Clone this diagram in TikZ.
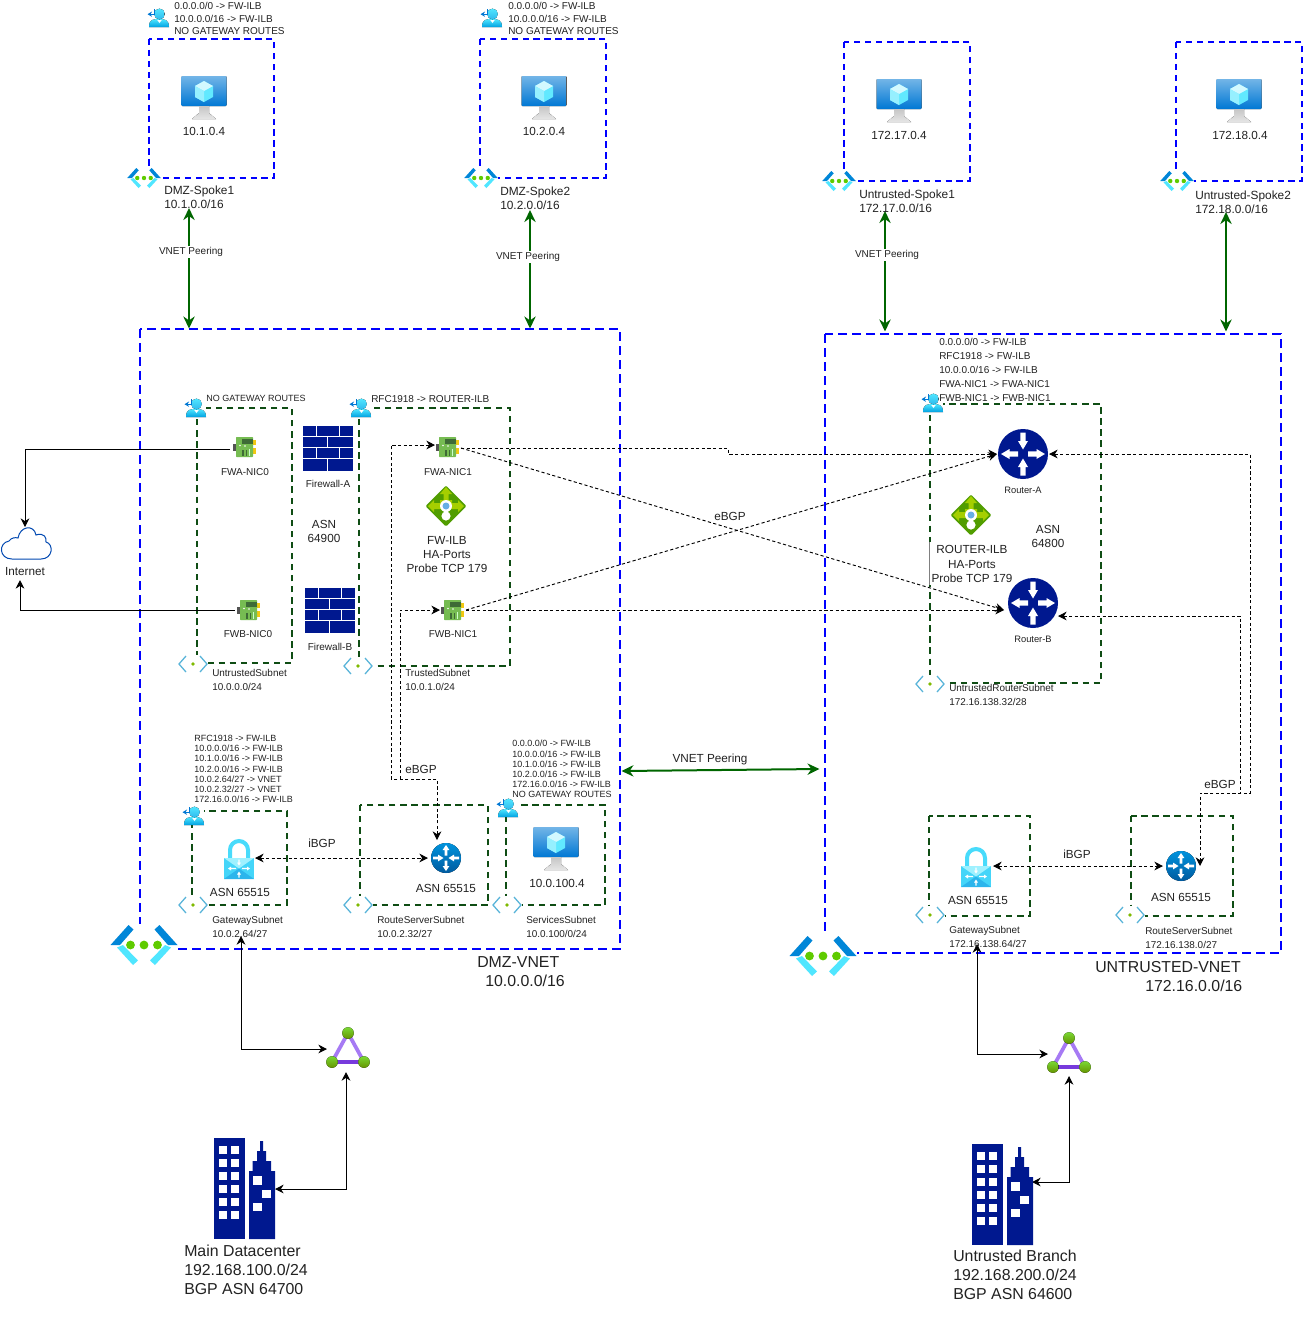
\documentclass[tikz,border=0pt]{standalone}
\usepackage{fontspec}
\setmainfont{Liberation Sans}
\usetikzlibrary{arrows.meta,calc}
\definecolor{navy}{HTML}{00188F}
\definecolor{subgreen}{HTML}{0F4D14}
\definecolor{peer}{HTML}{006600}
\definecolor{azb}{HTML}{0078D4}
\definecolor{azc}{HTML}{50E6FF}
\definecolor{azg}{HTML}{7FBA00}
\definecolor{subb}{HTML}{59B4D9}
\definecolor{txt}{HTML}{222222}
\definecolor{nicg}{HTML}{76BC52}
\definecolor{nicd}{HTML}{3E6B36}
\definecolor{nicy}{HTML}{F2C811}
\definecolor{erl}{HTML}{A67AF4}
\definecolor{erd}{HTML}{773ADC}
\tikzset{
 every node/.style={text=txt},
 vbox/.style={draw=blue,line width=2.05pt,dash pattern=on 6.5pt off 4pt},
 smallvbox/.style={draw=blue,line width=1.55pt,dash pattern=on 4.8pt off 3.4pt},
 subbox/.style={draw=subgreen,line width=1.55pt,dash pattern=on 4.8pt off 3.5pt},
 t9/.style={inner sep=0pt,align=left,anchor=west,font=\fontsize{6.75}{7.6}\selectfont},
 t10/.style={inner sep=0pt,align=left,anchor=west,font=\fontsize{7.5}{9.4}\selectfont},
 t10w/.style={t10,font=\fontsize{7.5}{10.5}\selectfont},
 t12/.style={inner sep=0pt,align=left,anchor=west,font=\fontsize{8.9}{10.5}\selectfont},
 t16/.style={inner sep=0pt,align=left,anchor=west,font=\fontsize{11.9}{14.2}\selectfont},
 c9/.style={inner sep=0pt,align=center,font=\fontsize{7}{8}\selectfont},
 c10/.style={inner sep=0pt,align=center,font=\fontsize{7.5}{9}\selectfont},
 c12/.style={inner sep=0pt,align=center,font=\fontsize{8.8}{10.5}\selectfont},
 t10s/.style={inner sep=0pt,align=left,anchor=west,font=\fontsize{7.45}{10.5}\selectfont},
 peerlink/.style={draw=peer,line width=1.5pt,{Stealth[length=9pt,width=8.5pt]}-{Stealth[length=9pt,width=8.5pt]}},
 bgpline/.style={draw=black,line width=0.7pt,dash pattern=on 2.4pt off 1.8pt},
 bgptwo/.style={bgpline,{Stealth[length=6.5pt,width=6.5pt]}-{Stealth[length=6.5pt,width=6.5pt]}},
 bgpone/.style={bgpline,-{Stealth[length=6.5pt,width=6.5pt]}},
 solidtwo/.style={draw=black,line width=0.75pt,{Stealth[length=6.5pt,width=6.5pt]}-{Stealth[length=6.5pt,width=6.5pt]}},
 solidone/.style={draw=black,line width=0.75pt,-{Stealth[length=6.5pt,width=6.5pt]}},
 whitebg/.style={fill=white,inner sep=1pt},
 vm/.pic={
  \fill[top color=azb!55!white,bottom color=azb,rounded corners=0.6pt] (-22.5,-21) rectangle (22.5,9);
  \fill[top color=gray!45,bottom color=gray!20] (-5,9) -- (5,9) -- (5,16) -- (12,22) -- (-12,22) -- (-5,16) -- cycle;
  \fill[azc!90] (0,-16) -- (9,-11) -- (9,0) -- (0,5) -- (-9,0) -- (-9,-11) -- cycle;
  \fill[white!75!azc] (0,-16) -- (9,-11) -- (0,-6) -- (-9,-11) -- cycle;
  \fill[white!40!azc] (0,-6) -- (-9,-11) -- (-9,0) -- (0,5) -- cycle;
 },
 vnetpic/.pic={
  \fill[white] (-34,-21) rectangle (34,21);
  \fill[azb!90!cyan] (-33.5,0) -- (-15.5,-20) -- (-10.5,-15.5) -- (-24,0) -- cycle;
  \fill[azb!90!cyan] (33.5,0) -- (15.5,-20) -- (10.5,-15.5) -- (24,0) -- cycle;
  \fill[azc] (-27,2.5) -- (-11,20) -- (-6,15.5) -- (-21,0) -- cycle;
  \fill[azc] (27,2.5) -- (11,20) -- (6,15.5) -- (21,0) -- cycle;
  \foreach \dx in {-13.5,0,13.5} \fill[azg!75!green] (\dx,0) circle (4.4);
 },
 subnetpic/.pic={
  \draw[subb,line width=0.95pt] (-7,-8) -- (-14,0) -- (-7,8);
  \draw[subb,line width=0.95pt] (7,-8) -- (14,0) -- (7,8);
  \fill[azg] (0,0) circle (1.9);
 },
 rtpic/.pic={
  \fill[top color=azc,bottom color=azb!70!cyan] (-9,9) .. controls (-9,1) and (-4,1) .. (1.5,1) .. controls (7,1) and (11,2) .. (11,9) -- cycle;
  \fill[top color=azc,bottom color=azc!60!azb] (1.5,-4) circle (5.4);
  \fill[white] (-0.8,2) -- (3.8,2) -- (1.5,5) -- cycle;
  \draw[azb,line width=0.95pt,-{Stealth[length=3.4pt,width=4pt]}] (-3.5,-9) -- (-3.5,-3.8) -- (-10.5,-3.8);
 },
 nicpic/.pic={
  \fill[gray!65!black] (-12,-3.5) rectangle (-9,4);
  \fill[nicy] (7,-7) rectangle (11,-2);
  \fill[nicy] (7,1) rectangle (11,7);
  \fill[nicg,rounded corners=0.5pt] (-9,-10) rectangle (8,10);
  \fill[nicd] (-3,-8) rectangle (8,-3.5);
  \fill[nicd] (-3,3) rectangle (-1.5,9);
  \fill[nicd] (0.5,3) rectangle (2,9);
  \fill[white!80!green] (4,2) rectangle (5,9);
  \fill[white] (-5,-1.5) circle (0.9);
  \fill[white] (0,-1) circle (0.9);
 },
 fwpic/.pic={
  \fill[navy] (-25,-22.5) rectangle (25,22.5);
  \draw[white,line width=0.8pt] (-25,-11.8) -- (25,-11.8) (-25,-0.4) -- (25,-0.4) (-25,10.8) -- (25,10.8)
    (-11.4,-22.5) -- (-11.4,-11.8) (11.9,-22.5) -- (11.9,-11.8)
    (-0.2,-11.8) -- (-0.2,-0.4)
    (-11.4,-0.4) -- (-11.4,10.8) (11.9,-0.4) -- (11.9,10.8)
    (-0.2,10.8) -- (-0.2,22.5);
 },
 ilbpic/.pic={
  \fill[azg!75!black!85!green,rounded corners=1pt] (0,-20.5) -- (20.5,0) -- (0,20.5) -- (-20.5,0) -- cycle;
  \fill[azg!70!yellow] (0,-19) -- (-6,-12) -- (-2.5,-12) -- (-2.5,-6) -- (-6,-6) -- (-6,-3) -- (-12,-3) -- (-12,-6) -- (-18,0) -- (-12,6) -- (-12,3) -- (12,3) -- (12,6) -- (18,0) -- (12,-6) -- (12,-3) -- (6,-3) -- (6,-6) -- (2.5,-6) -- (2.5,-12) -- (6,-12) -- cycle;
  \fill[white] (0,0) circle (6);
  \fill[white] (0,10) circle (4.6);
  \fill[white] (-2.2,3) rectangle (2.2,8);
  \fill[azb!60!white] (0,0) circle (3.5);
 },
 rtrbig/.pic={
  \fill[navy] (0,0) circle (25);
  \foreach \ang in {0,180}{
   \begin{scope}[rotate=\ang]
    \fill[white] (-2.6,-21.5) -- (2.6,-21.5) -- (2.6,-13) -- (5,-13) -- (0,-4.5) -- (-5,-13) -- (-2.6,-13) -- cycle;
   \end{scope}}
  \foreach \ang in {90,270}{
   \begin{scope}[rotate=\ang]
    \fill[white] (-2.6,-5) -- (2.6,-5) -- (2.6,-13.5) -- (5,-13.5) -- (0,-22) -- (-5,-13.5) -- (-2.6,-13.5) -- cycle;
   \end{scope}}
 },
 rtrsmall/.pic={
  \fill[top color=azb!80!cyan,bottom color=azb!75!black] (0,0) circle (15);
  \foreach \ang in {90,270}{
   \begin{scope}[rotate=\ang]
    \fill[white] (-1.4,-13) -- (1.4,-13) -- (1.4,-8) -- (3.4,-8) -- (0,-2.5) -- (-3.4,-8) -- (-1.4,-8) -- cycle;
   \end{scope}}
  \foreach \ang in {0,180}{
   \begin{scope}[rotate=\ang]
    \fill[white] (-1.4,-2.5) -- (1.4,-2.5) -- (1.4,-8) -- (3.4,-8) -- (0,-13) -- (-3.4,-8) -- (-1.4,-8) -- cycle;
   \end{scope}}
 },
 vpnpic/.pic={
  \draw[azc!90!azb,line width=3pt] (-9,0) -- (-9,-9) arc[start angle=180,end angle=360,radius=9] -- (9,0);
  \fill[azc!85!azb] (-15,-1) rectangle (15,20);
  \fill[azc!55!white] (-15,-1) -- (0,9.5) -- (15,-1) -- cycle;
  \fill[azb!45!azc] (-15,20) -- (0,9.5) -- (15,20) -- cycle;
  \foreach \ang in {0,180}{
   \begin{scope}[shift={(0,9.5)},rotate=\ang]
    \fill[white] (-0.7,-9) -- (0.7,-9) -- (0.7,-6) -- (2,-6) -- (0,-3) -- (-2,-6) -- (-0.7,-6) -- cycle;
   \end{scope}}
  \foreach \ang in {90,270}{
   \begin{scope}[shift={(0,9.5)},rotate=\ang]
    \fill[white] (-0.7,-3) -- (0.7,-3) -- (0.7,-8) -- (2,-8) -- (0,-11) -- (-2,-8) -- (-0.7,-8) -- cycle;
   \end{scope}}
 },
 erpic/.pic={
  \draw[erl,line width=2.8pt] (-16,14) -- (0,-15) -- (16,14);
  \draw[erd,line width=2.8pt] (-16,14) -- (16,14);
  \foreach \px/\py in {0/-15,-16/14,16/14}
   \fill[top color=azg!70!green!80!white,bottom color=azg!80!black] (\px,\py) circle (5.8);
 },
 bldpic/.pic={
  \fill[navy] (0,0) rectangle (31,101);
  \foreach \ry in {8,21,34,47,60,73}{
   \fill[white] (4.7,\ry) rectangle (12.5,\ry+8);
   \fill[white] (17.3,\ry) rectangle (25,\ry+8);
  }
  \fill[navy] (35,101) -- (35,33) -- (38.5,33) -- (38.5,23) -- (43,23) -- (43,13) -- (46,13) -- (46,3) -- (49,3) -- (49,13) -- (52,13) -- (52,23) -- (57,23) -- (57,33) -- (61,33) -- (61,101) -- cycle;
  \fill[white] (39,38) rectangle (47.5,47);
  \fill[white] (48.3,52) rectangle (57,60);
  \fill[white] (39,65) rectangle (47.5,73);
 },
 cloudpic/.pic={
  \draw[draw=azb!50!navy,fill=white,line width=0.75pt] (-14,16) .. controls (-27,16) and (-28,0) .. (-17,-2) .. controls (-15,-5) and (-11,-6) .. (-8,-5) .. controls (-6,-17) and (8,-19) .. (10,-8) .. controls (18,-11) and (21,-5) .. (20,-1) .. controls (28,1) and (27,16) .. (15,16) -- cycle;
 }
}
\begin{document}
\begin{tikzpicture}[x=0.75pt,y=-0.75pt]
\useasboundingbox (0,0) rectangle (1303,1322);
\fill[white] (0,0) rectangle (1303,1322);

% big vnets
\draw[vbox] (140,329) rectangle (620,949);
\draw[vbox] (825,334) rectangle (1281,953);
% spoke boxes
\draw[smallvbox] (149,39) rectangle (274,178);
\draw[smallvbox] (480,39) rectangle (606,178);
\draw[smallvbox] (844,42) rectangle (970,181);
\draw[smallvbox] (1176,42) rectangle (1302,181);
% subnets
\draw[subbox] (197,408) rectangle (292,663);
\draw[subbox] (359,408) rectangle (510,666);
\draw[subbox] (192,811) rectangle (287,905);
\draw[subbox] (360,805) rectangle (488,905);
\draw[subbox] (506,805) rectangle (605,905);
\draw[subbox] (930,404) rectangle (1101,683);
\draw[subbox] (929,816) rectangle (1030,916);
\draw[subbox] (1131,816) rectangle (1233,916);

% icon anchor nodes (sizes set the connector end points)
\tikzset{ib/.style 2 args={inner sep=0pt,outer sep=0pt,minimum width=#1*0.75pt,minimum height=#2*0.75pt}}
\node[ib={48}{28}] (peer1) at (189,194) {};
\node[ib={48}{30}] (peer2) at (530,195) {};
\node[ib={48}{30}] (peer3) at (885,196) {};
\node[ib={48}{30}] (peer4) at (1226,197) {};
\node[ib={1}{1}] (dmz1) at (189,329) {};
\node[ib={1}{1}] (dmz2) at (530,329) {};
\node[ib={1}{1}] (unt1) at (885,332) {};
\node[ib={1}{1}] (unt2) at (1226,332) {};
\node[ib={1}{1}] (dmzside) at (621,771) {};
\node[ib={1}{1}] (untside) at (820,769) {};

\node[ib={28}{22}] (fwan0) at (244,449) {};
\node[ib={28}{22}] (fwbn0) at (249,610) {};
\node[ib={26}{22}] (fwan1) at (448,448) {};
\node[ib={26}{22}] (fwbn1) at (453,610) {};
\node[ib={52}{52}] (rtrA) at (1023,454) {};
\node[ib={54}{54}] (rtrB) at (1031,610) {};
\node[ib={36}{36}] (rs1) at (446,858) {};
\node[ib={36}{36}] (rs2) at (1181,866) {};
\node[ib={34}{44}] (gw1) at (238,858) {};
\node[ib={34}{44}] (gw2) at (976,866) {};
\node[ib={44}{46}] (er1) at (349,1049) {};
\node[ib={44}{46}] (er2) at (1070,1054) {};
\node[ib={62}{102}] (bld1) at (244,1189) {};
\node[ib={62}{102}] (bld2) at (1001,1194) {};
\node[ib={50}{53}] (cloud) at (25,553.5) {};
\node[ib={30}{30}] (gwlbl1) at (241,921) {};
\node[ib={30}{30}] (gwlbl2) at (977,929) {};

\coordinate (c2a) at (25,449);
\coordinate (c2b) at (20,610);
\coordinate (t1a) at (728,448);
\coordinate (t1b) at (728,454);
\coordinate (rsup) at (437,779);
\coordinate (rsl) at (391,779);
\coordinate (rst) at (391,445);
\coordinate (rsm) at (400,779);
\coordinate (rsb) at (400,610);
\coordinate (rra) at (1250,454);
\coordinate (rrb) at (1250,793);
\coordinate (rrc) at (1200,793);
\coordinate (rrd) at (1240,616);
\coordinate (rre) at (1240,793);
\coordinate (rbe) at (1058,616);
\coordinate (rse) at (1200,866);

% connectors
\draw[peerlink] (peer1.south) -- (dmz1);
\draw[peerlink] (peer2.south) -- (dmz2);
\draw[peerlink] (peer3.south) -- (unt1);
\draw[peerlink] (peer4.south) -- (unt2);
\draw[peerlink] (dmzside) -- (untside);

\draw[solidone] (fwan0.west) -- (c2a) -- (c2a |- cloud.north);
\draw[solidone] (fwbn0.west) -- (c2b) -- (c2b |- cloud.south);

\draw[bgpone] (fwan1.east) -- (t1a) -- (t1b) -- (rtrA.west);
\draw[bgpone] (fwan1.east) -- (rtrB.west);
\draw[bgpone] (fwbn1.east) -- (rtrA.west);
\draw[bgpone] (fwbn1.east) -- (rtrB.west);
\draw[bgptwo] (rs1.north -| rsup) -- (rsup) -- (rsl) -- (rst) -- (rst -| fwan1.west);
\draw[bgpone] (rsm) -- (rsb) -- (fwbn1.west);
\draw[bgptwo] (rtrA.east) -- (rra) -- (rrb) -- (rrc) -- (rse);
\draw[bgpline,{Stealth[length=6.5pt,width=6.5pt]}-] (rbe) -- (rrd) -- (rre);
\draw[bgptwo] (gw1.east) -- (rs1.west);
\draw[bgptwo] (gw2.east) -- (rs2.west);

\draw[solidtwo] (gwlbl1.south) -- (gwlbl1.south |- er1.west) -- (er1.west);
\draw[solidtwo] (gwlbl2.south) -- (gwlbl2.south |- er2.west) -- (er2.west);
\draw[solidtwo] (bld1.east |- 0,1189) -- (346,1189) -- (346,1072);
\draw[solidtwo] (bld2.east |- 0,1182) -- (1069,1182) -- (1069,1076);

% icons
\pic[scale=1] at (204,97) {vm};
\pic at (544,97) {vm};
\pic at (899,100) {vm};
\pic at (1239,100) {vm};
\pic at (556,848) {vm};

\pic[scale=0.5] at (144,178) {vnetpic};
\pic[scale=0.5] at (481,178) {vnetpic};
\pic[scale=0.5] at (839,181) {vnetpic};
\pic[scale=0.5] at (1177,181) {vnetpic};
\pic at (144,945) {vnetpic};
\pic at (823,956) {vnetpic};

\foreach \sx/\sy in {193/664,358/666,193/905,358/905,507/905,930/684,930/915,1130/915}{
 \fill[white] (\sx-15,\sy-9) rectangle (\sx+15,\sy+9);
 \pic at (\sx,\sy) {subnetpic};
}
\foreach \sx/\sy in {158/18,491/18,195/408,360/408,193/816,507/808,932/403}{
 \fill[white] (\sx-10,\sy-9) rectangle (\sx+11,\sy+9);
 \pic at (\sx,\sy) {rtpic};
}
\pic at (245,447) {nicpic};
\pic at (249,610) {nicpic};
\pic at (448,447) {nicpic};
\pic at (453,610) {nicpic};
\pic at (328,448) {fwpic};
\pic at (330,610) {fwpic};
\pic at (446,506) {ilbpic};
\pic at (971,515) {ilbpic};
\pic at (1023,454) {rtrbig};
\pic at (1033,603) {rtrbig};
\pic at (446,858) {rtrsmall};
\pic at (1181,866) {rtrsmall};
\pic at (239,859) {vpnpic};
\pic at (976,867) {vpnpic};
\pic at (348,1048) {erpic};
\pic at (1069,1053) {erpic};
\pic at (214,1138) {bldpic};
\pic at (972,1144) {bldpic};
\pic at (26,543) {cloudpic};

% text
\node[t10] (rt1) at (174,18.5) {0.0.0.0/0 -> FW-ILB\\10.0.0.0/16 -> FW-ILB\\NO GATEWAY ROUTES};
\node[t10] (rt2) at (508,18.5) {0.0.0.0/0 -> FW-ILB\\10.0.0.0/16 -> FW-ILB\\NO GATEWAY ROUTES};
\node[c12] (vm1) at (204,131) {10.1.0.4};
\node[c12] (vm2) at (544,131) {10.2.0.4};
\node[c12] (vm3) at (899,135) {172.17.0.4};
\node[c12] (vm4) at (1240,135) {172.18.0.4};
\node[t12] (sp1) at (164,197) {DMZ-Spoke1\\10.1.0.0/16};
\node[t12] (sp2) at (500,198) {DMZ-Spoke2\\10.2.0.0/16};
\node[t12] (sp3) at (859,201) {Untrusted-Spoke1\\172.17.0.0/16};
\node[t12] (sp4) at (1195,202) {Untrusted-Spoke2\\172.18.0.0/16};
\node[c10,whitebg] (pl1) at (191,252) {VNET Peering};
\node[c10,whitebg] (pl2) at (528,257) {VNET Peering};
\node[c10,whitebg] (pl3) at (887,255) {VNET Peering};
\node[c12] (pl4) at (710,759) {VNET Peering};
\node[c12] (inet) at (25,572) {Internet};
\node[t10,font=\fontsize{6.75}{8}\selectfont] (rt3) at (206,398) {NO GATEWAY ROUTES};
\node[t10] (rt4) at (371,399) {RFC1918 -> ROUTER-ILB};
\node[c10] (nl1) at (245,472) {FWA-NIC0};
\node[c10] (nl2) at (248,634) {FWB-NIC0};
\node[c10] (nl3) at (448,472) {FWA-NIC1};
\node[c10] (nl4) at (453,634) {FWB-NIC1};
\node[c10] (fl1) at (328,484) {Firewall-A};
\node[c10] (fl2) at (330,647) {Firewall-B};
\node[c12] (asn1) at (324,531) {ASN\\64900};
\node[c12,font=\fontsize{8.8}{10.6}\selectfont] (ilb1) at (447,554.5) {FW-ILB\\HA-Ports\\Probe TCP 179};
\fill[white] (928,542) rectangle (933,585);
\draw[gray,line width=0.4pt] (929.5,542) -- (929.5,585);
\node[c12,font=\fontsize{8.8}{10.6}\selectfont] (ilb2) at (972,564) {ROUTER-ILB\\HA-Ports\\Probe TCP 179};
\node[c12] (asn2) at (1048,536) {ASN\\64800};
\node[c12] (ebgp1) at (730,516) {eBGP};
\node[c12] (ebgp2) at (421,769) {eBGP};
\node[c12] (ebgp3) at (1220,784) {eBGP};
\node[c12] (ibgp1) at (322,843) {iBGP};
\node[c12] (ibgp2) at (1077,854) {iBGP};
\node[c9] (rl1) at (1023,490) {Router-A};
\node[c9] (rl2) at (1033,639) {Router-B};
\node[t10w] (rt5) at (939,369.5) {0.0.0.0/0 -> FW-ILB\\RFC1918 -> FW-ILB\\10.0.0.0/16 -> FW-ILB\\FWA-NIC1 -> FWA-NIC1\\FWB-NIC1 -> FWB-NIC1};
\node[t9] (rt6) at (194,769) {RFC1918 -> FW-ILB\\10.0.0.0/16 -> FW-ILB\\10.1.0.0/16 -> FW-ILB\\10.2.0.0/16 -> FW-ILB\\10.0.2.64/27 -> VNET\\10.0.2.32/27 -> VNET\\172.16.0.0/16 -> FW-ILB};
\node[t9] (rt7) at (512,769) {0.0.0.0/0 -> FW-ILB\\10.0.0.0/16 -> FW-ILB\\10.1.0.0/16 -> FW-ILB\\10.2.0.0/16 -> FW-ILB\\172.16.0.0/16 -> FW-ILB\\NO GATEWAY ROUTES};
\node[c12] (a1) at (240,892) {ASN 65515};
\node[c12] (a2) at (446,888) {ASN 65515};
\node[c12] (a3) at (978,900) {ASN 65515};
\node[c12] (a4) at (1181,897) {ASN 65515};
\node[c12] (vm5) at (557,883) {10.0.100.4};
\node[t10s] (s1) at (212,680) {UntrustedSubnet\\10.0.0.0/24};
\node[t10s] (s2) at (405,680) {TrustedSubnet\\10.0.1.0/24};
\node[t10s] (s3) at (212,927) {GatewaySubnet\\10.0.2.64/27};
\node[t10s] (s4) at (377,927) {RouteServerSubnet\\10.0.2.32/27};
\node[t10s] (s5) at (526,927) {ServicesSubnet\\10.0.100/0/24};
\node[t10s] (s6) at (949,695) {UntrustedRouterSubnet\\172.16.138.32/28};
\node[t10s] (s7) at (949,937) {GatewaySubnet\\172.16.138.64/27};
\node[t10s] (s8) at (1145,938) {RouteServerSubnet\\172.16.138.0/27};
\node[t16] (v1) at (477,971.5) {DMZ-VNET\\\hspace*{6pt}10.0.0.0/16};
\node[t16] (v2) at (1095,976.5) {UNTRUSTED-VNET\\\hspace*{37.5pt}172.16.0.0/16};
\node[t16] (dc1) at (184,1270) {Main Datacenter\\192.168.100.0/24\\BGP ASN 64700};
\node[t16] (dc2) at (953,1275) {Untrusted Branch\\192.168.200.0/24\\BGP ASN 64600};
\end{tikzpicture}
\end{document}
